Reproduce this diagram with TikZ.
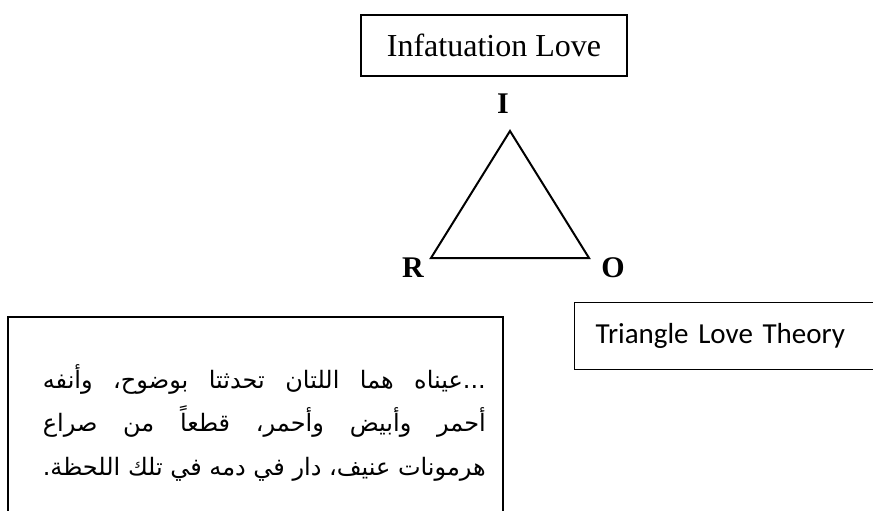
\documentclass[tikz,border=0pt]{standalone}
\usepackage{fontspec}
\setmainfont{Liberation Serif}
\newfontfamily\calibrifont{Carlito}
\newfontfamily\arabicfont[Script=Arabic]{DejaVu Sans}
\TeXXeTstate=1
\usetikzlibrary{positioning}

\begin{document}
\begin{tikzpicture}[
    x=1pt, y=-1pt,
    titlebox/.style={draw, line width=1.4pt, inner sep=0pt},
    corner/.style={font=\fontsize{30}{30}\selectfont\bfseries, inner sep=0pt},
    side/.style={line width=2pt, line join=miter},
    arline/.style={anchor=base east, inner sep=0pt, font=\arabicfont\fontsize{24}{24}\selectfont}
  ]
    \clip (0,0) rectangle (873,511);

    % top title
    \node[titlebox, minimum width=266pt, minimum height=61pt,
          font=\fontsize{32}{32}\selectfont] (infat) at (494,45.5) {Infatuation Love};

    % triangle
    \coordinate (top) at (510,131);
    \coordinate (left) at (431,258);
    \coordinate (right) at (589,258);
    \draw[side] (top) -- (left) -- (right) -- cycle;
    \node[corner] (I) at (503,104) {I};
    \node[corner] (R) at (413,268) {R};
    \node[corner] (O) at (613,268) {O};

    % theory box
    \node[titlebox, anchor=north west, minimum height=67pt, text width=300pt,
          inner xsep=21pt, align=left, font=\calibrifont\fontsize{29}{29}\selectfont]
          (theory) at (574,302) {Triangle Love Theory};

    % quote box, bottom runs off the page
    \draw[line width=1.4pt] (8,317) rectangle (503,540);
    \node[arline] (l1) at (486,388) {\makebox[443pt][s]{\beginR ...عيناه هما اللتان تحدثتا بوضوح، وأنفه\endR}};
    \node[arline] (l2) at (486,431) {\makebox[443pt][s]{\beginR أحمر وأبيض وأحمر، قطعاً من صراع\endR}};
    \node[arline] (l3) at (486,475) {\makebox[443pt][s]{\beginR هرمونات عنيف، دار في دمه في تلك اللحظة.\endR}};
\end{tikzpicture}
\end{document}
